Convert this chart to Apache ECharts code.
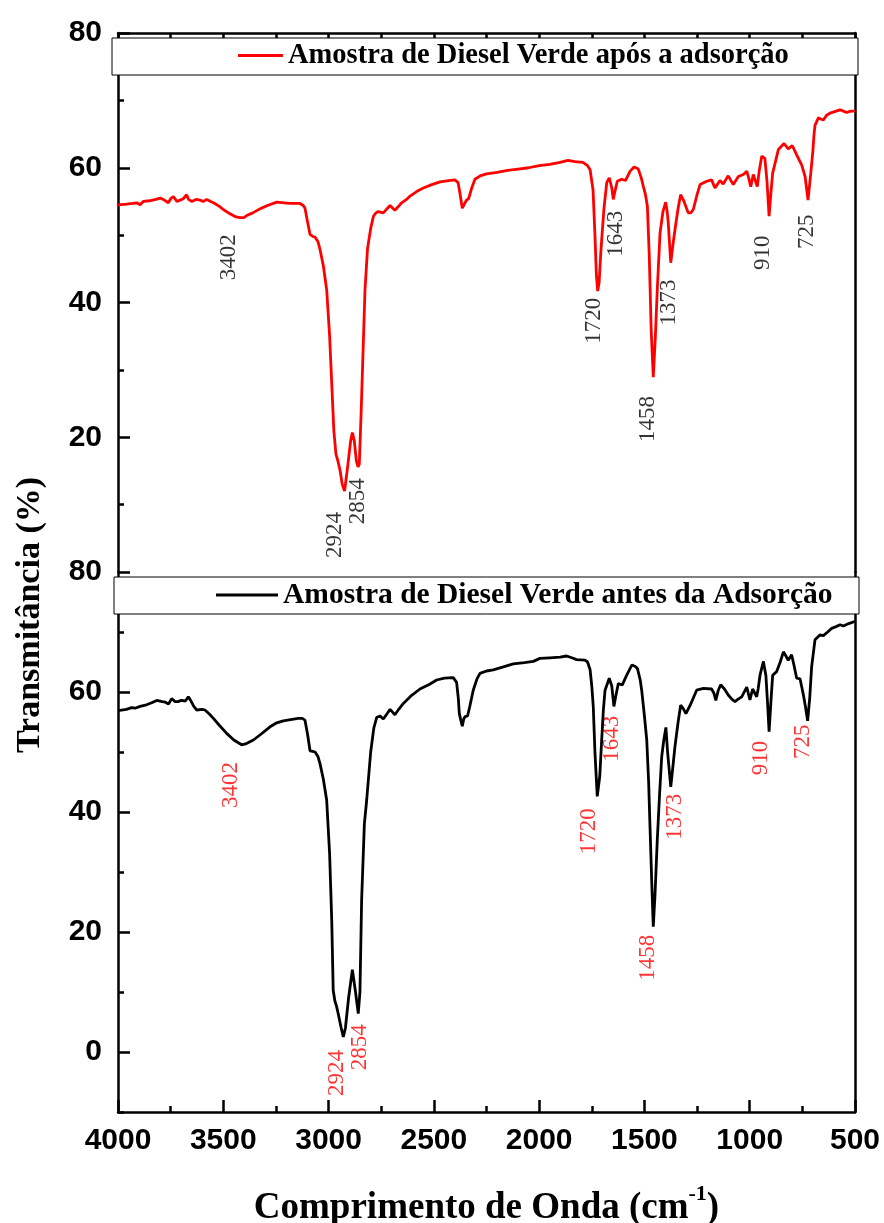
<!DOCTYPE html>
<html><head><meta charset="utf-8">
<script src="https://cdn.jsdelivr.net/npm/echarts@6/dist/echarts.min.js"></script>
<style>html,body{margin:0;padding:0;background:#fff}#c{width:884px;height:1223px}</style>
</head><body><div id="c"></div>
<script>
// ---- Spectrum after adsorption (red, top panel) ----
const wnAfter = [4000,3960,3930,3911,3895,3880,3850,3820,3800,3780,3761,3750,3737,3720,3705,3690,3674,3665,3650,3630,3610,3595,3579,3560,3547,3520,3500,3470,3440,3420,3402,3389,3360,3326,3290,3246,3210,3183,3136,3120,3112,3100,3088,3075,3064,3050,3041,3025,3009,2995,2985,2975,2965,2955,2945,2935,2924,2910,2895,2887,2878,2868,2860,2854,2845,2835,2827,2815,2800,2787,2775,2764,2740,2720,2708,2695,2685,2670,2653,2630,2613,2580,2550,2510,2470,2430,2400,2385,2375,2365,2360,2352,2345,2335,2320,2305,2280,2250,2200,2150,2100,2050,2000,1950,1901,1863,1830,1792,1770,1758,1744,1735,1728,1722,1715,1708,1703,1692,1679,1667,1655,1648,1640,1629,1608,1590,1568,1549,1529,1515,1505,1495,1486,1477,1468,1458,1448,1439,1426,1412,1399,1392,1387,1375,1365,1355,1340,1328,1312,1292,1280,1268,1250,1236,1204,1181,1165,1141,1126,1102,1078,1054,1030,1014,1005,995,983,964,955,943,928,918,908,900,891,864,837,817,798,777,753,737,723,710,700,695,690,674,660,650,635,619,600,571,555,540,520,500];
const tAfter = [54.5,54.6,54.7,54.8,54.5,55.0,55.1,55.3,55.5,55.2,54.8,55.4,55.7,55.0,55.2,55.4,56.0,55.3,55.0,55.3,55.2,55.0,55.3,55.0,54.8,54.3,53.8,53.2,52.7,52.6,52.6,52.9,53.3,53.9,54.4,54.9,54.8,54.7,54.7,54.4,54.0,52.0,50.1,49.8,49.7,49.0,47.9,45.5,41.9,35,28,21,17.5,16.4,15.0,13,12.0,15.5,19.5,20.7,19.5,16.5,15.6,16.0,24,34,41.9,48,51,52.8,53.3,53.5,53.3,54.0,54.4,54.0,53.7,54.2,54.8,55.3,55.8,56.5,57.0,57.5,57.9,58.1,58.2,57.8,56,54,53.8,54.8,55.2,55.4,57.0,58.3,58.8,59.1,59.3,59.6,59.8,60.0,60.3,60.5,60.8,61.1,60.9,60.8,60.3,59.7,56.7,50,44,41.7,43,47,49.3,54,57.8,58.5,57,55.3,56.5,58.0,58.3,58.1,59.5,60.1,59.8,58.5,57.2,56,54.3,46.9,36,28.9,35,41.9,50.3,53.5,54.9,53.5,51.9,45.9,48.5,50.8,54,56.0,55.0,53.3,53.3,53.8,56,57.5,58.0,58.2,57.0,58.1,57.6,58.8,57.5,58.7,59.0,59.5,58.5,57.2,59.0,57.2,59.5,61.7,61.4,58,52.8,56,59.2,62.7,63.6,62.8,63.3,61.9,60.4,58.7,55.2,59.2,62.5,64.8,66.3,67.4,67.2,67.1,67.8,68.1,68.3,68.6,68.4,68.2,68.4,68.4];

// ---- Spectrum before adsorption (black, bottom panel) ----
const wnBefore = [4000,3960,3935,3919,3910,3895,3870,3840,3816,3790,3775,3760,3745,3730,3715,3700,3680,3666,3655,3640,3626,3600,3587,3565,3547,3520,3484,3450,3413,3390,3357,3320,3278,3250,3215,3180,3144,3125,3112,3100,3088,3075,3064,3050,3041,3025,3009,2995,2985,2978,2970,2962,2955,2940,2930,2920,2905,2887,2872,2859,2851,2843,2830,2819,2800,2785,2771,2755,2740,2720,2708,2695,2685,2665,2645,2610,2566,2520,2487,2450,2408,2392,2384,2379,2370,2365,2358,2352,2340,2330,2313,2295,2281,2250,2218,2170,2123,2070,2028,1996,1950,1900,1869,1845,1822,1782,1770,1758,1750,1743,1735,1724,1712,1703,1695,1687,1667,1655,1645,1635,1624,1605,1587,1560,1545,1533,1520,1513,1500,1489,1480,1474,1465,1458,1450,1439,1428,1418,1408,1398,1390,1375,1365,1355,1340,1328,1315,1303,1280,1252,1220,1181,1170,1161,1150,1138,1120,1102,1085,1070,1055,1038,1014,999,986,967,960,951,935,923,915,908,900,891,872,855,840,828,817,801,790,777,761,745,735,725,715,706,690,667,650,630,611,590,571,555,530,505,500];
const tBefore = [56.9,57.1,57.4,57.3,57.0,57.6,57.8,58.2,58.6,58.4,58.3,58.0,58.9,58.4,58.4,58.6,58.5,59.2,58.6,57.6,57.0,57.1,57.0,56.3,55.6,54.5,53.1,52.0,51.2,51.4,52.0,53.0,54.2,54.8,55.2,55.4,55.6,55.6,55.3,53,50.2,50.1,50.0,49.2,48.1,45.5,42.0,33,22,10.3,8.5,7.6,6.5,4.0,2.5,4,9,13.7,10,6.4,10,25.3,38,42.0,50,54,55.8,56.0,55.5,56.5,57.1,56.6,56.2,57.2,58.1,59.3,60.5,61.3,62.0,62.3,62.4,61.6,59,56.4,55,54.3,55.5,55.9,56,57.5,60.3,62.2,63.1,63.5,63.7,64.2,64.7,64.9,65.1,65.6,65.7,65.8,66.0,65.7,65.4,65.3,65.0,63.7,61,57.6,50,42.6,46,52.0,57,60.3,62.3,61,57.6,59.5,61.4,61.2,62.6,64.5,64.3,63.9,62,60.3,56,52.0,45,38.1,28,20.9,26,35.3,43,49.2,52,54.1,50,44.2,47.5,50.9,55,57.8,57.2,56.4,58,60.3,60.6,60.5,59.8,58.6,60.2,61.2,60.5,59.5,58.8,58.4,58.8,59.2,60.8,58.7,60.5,59.2,60.5,62.8,65.1,62.7,58,53.4,58,62.8,63.4,65,66.7,66.0,65.3,66.2,64.5,62.3,62.2,59.5,57.5,55.2,59,64.2,68.7,69.5,69.4,70.0,70.6,70.9,71.2,71.0,71.4,71.7,71.8];

// ---- Peak annotations (label text, anchor wavenumber, anchor transmittance) ----
const peakLabels = ['3402','2924','2854','1720','1643','1458','1373','910','725'];
const afterLabelWn = [3473,2969,2860,1739,1635,1483,1383,937,728];
const afterLabelT = [46.7,5.5,10.5,37.3,50.2,22.7,40.0,47.4,50.5];
const beforeLabelWn = [3463,2960,2851,1763,1654,1483,1355,946,747];
const beforeLabelT = [44.5,-3.5,0.8,36.8,52.2,15.7,39.2,49,51.7];

const seriesNames = ['Amostra de Diesel Verde após a adsorção','Amostra de Diesel Verde antes da Adsorção'];
const xTitle = 'Comprimento de Onda (cm';
const xTitleSup = '-1';
const yTitle = 'Transmitância (%)';

const zip = (a,b)=>a.map((v,i)=>[v,b[i]]);
const ann = (w,t)=>w.map((v,i)=>[v,t[i],peakLabels[i]]);

const G_LEFT=118, G_RIGHT=29;
const tickFont = {fontFamily:'Liberation Sans',fontWeight:'bold',fontSize:30,color:'#000'};
const axLine = {show:true,onZero:false,lineStyle:{color:'#000',width:2.5}};
const tickStyle = {width:2.5,color:'#000'};

const chart = echarts.init(document.getElementById('c'),null,{renderer:'canvas'});
const option = {
  animation:false,
  backgroundColor:'#fff',
  grid:[
    {left:G_LEFT,right:G_RIGHT,top:33,height:539,containLabel:false,outerBoundsMode:'none'},
    {left:G_LEFT,right:G_RIGHT,top:572,height:540,containLabel:false,outerBoundsMode:'none'},
    {left:G_LEFT,right:G_RIGHT,top:572,height:480,containLabel:false,outerBoundsMode:'none'}
  ],
  xAxis:[
    {gridIndex:0,type:'value',min:500,max:4000,inverse:true,position:'top',interval:500,
     axisLine:axLine,axisTick:{show:true,inside:true,length:12,lineStyle:tickStyle},
     minorTick:{show:true,splitNumber:2,length:6,lineStyle:tickStyle},
     axisLabel:{show:false},splitLine:{show:false}},
    {gridIndex:1,type:'value',min:500,max:4000,inverse:true,position:'bottom',interval:500,
     axisLine:axLine,axisTick:{show:true,inside:true,length:12,lineStyle:tickStyle},
     minorTick:{show:true,splitNumber:2,length:6,lineStyle:tickStyle},
     axisLabel:Object.assign({margin:14,formatter:v=>String(v)},tickFont),splitLine:{show:false},
     name:'{m|'+xTitle+'}{s|'+xTitleSup+'}{m|)}',nameLocation:'middle',nameGap:71,
     nameTextStyle:{rich:{
       m:{fontFamily:'Liberation Serif',fontWeight:'bold',fontSize:37,color:'#000',lineHeight:44,verticalAlign:'bottom'},
       s:{fontFamily:'Liberation Serif',fontWeight:'bold',fontSize:22,color:'#000',lineHeight:44,verticalAlign:'top',padding:[0,0,16,0]}
     }}},
    {gridIndex:2,type:'value',min:500,max:4000,inverse:true,show:false,axisLine:{onZero:false}}
  ],
  yAxis:[
    {gridIndex:0,type:'value',min:0,max:80,interval:20,position:'left',
     axisLine:axLine,axisTick:{show:true,inside:true,length:12,lineStyle:tickStyle},
     minorTick:{show:true,splitNumber:2,length:6,lineStyle:tickStyle},
     axisLabel:Object.assign({margin:16,formatter:v=>v===0?'':String(v)},tickFont),splitLine:{show:false}},
    {gridIndex:0,type:'value',min:0,max:80,position:'right',axisLine:axLine,axisTick:{show:false},axisLabel:{show:false},splitLine:{show:false}},
    {gridIndex:1,type:'value',min:-10,max:80,interval:10,position:'left',
     axisLine:axLine,axisTick:{show:true,inside:true,length:6,lineStyle:tickStyle},
     axisLabel:Object.assign({margin:16,formatter:v=>(v%20===0)?String(v):''},tickFont),splitLine:{show:false}},
    {gridIndex:1,type:'value',min:-10,max:80,position:'right',axisLine:axLine,axisTick:{show:false},axisLabel:{show:false},splitLine:{show:false}},
    {gridIndex:2,type:'value',min:0,max:80,interval:20,position:'left',
     axisLine:{show:false,onZero:false},axisTick:{show:true,inside:true,length:12,lineStyle:tickStyle},
     axisLabel:{show:false},splitLine:{show:false}}
  ],
  legend:[
    {data:[seriesNames[0]],left:238,top:41,icon:'rect',itemWidth:45,itemHeight:3,padding:0,z:10,
     textStyle:{fontFamily:'Liberation Serif',fontWeight:'bold',fontSize:28.5,color:'#000'}},
    {data:[seriesNames[1]],left:216,top:580,icon:'rect',itemWidth:62,itemHeight:3,padding:0,z:10,
     textStyle:{fontFamily:'Liberation Serif',fontWeight:'bold',fontSize:29.5,color:'#000'}}
  ],
  graphic:[
    {type:'rect',z:8,shape:{x:112,y:38,width:746,height:37},style:{fill:'#fff',stroke:'#000',lineWidth:1}},
    {type:'rect',z:8,shape:{x:114,y:577,width:745,height:37},style:{fill:'#fff',stroke:'#000',lineWidth:1}},
    {type:'text',z:8,x:30,y:615,rotation:Math.PI/2,
     style:{text:yTitle,font:'bold 34px "Liberation Serif"',fill:'#000',textAlign:'center',textVerticalAlign:'middle'}}
  ],
  series:[
    {name:seriesNames[0],type:'line',xAxisIndex:0,yAxisIndex:0,data:zip(wnAfter,tAfter),
     showSymbol:false,symbol:'none',color:'#ff0000',lineStyle:{color:'#ff0000',width:2.8},z:3},
    {name:seriesNames[1],type:'line',xAxisIndex:1,yAxisIndex:2,data:zip(wnBefore,tBefore),
     showSymbol:false,symbol:'none',color:'#000',lineStyle:{color:'#000',width:2.8},z:3},
    {type:'scatter',xAxisIndex:0,yAxisIndex:0,symbolSize:0,data:ann(afterLabelWn,afterLabelT),silent:true,
     label:{show:true,position:'inside',rotate:90,formatter:p=>p.data[2],fontFamily:'Liberation Serif',fontSize:23,color:'#000',textBorderWidth:0}},
    {type:'scatter',xAxisIndex:1,yAxisIndex:2,symbolSize:0,data:ann(beforeLabelWn,beforeLabelT),silent:true,
     label:{show:true,position:'inside',rotate:90,formatter:p=>p.data[2],fontFamily:'Liberation Serif',fontSize:23,color:'#ff0000',textBorderWidth:0}}
  ]
};
chart.setOption(option);
</script></body></html>
